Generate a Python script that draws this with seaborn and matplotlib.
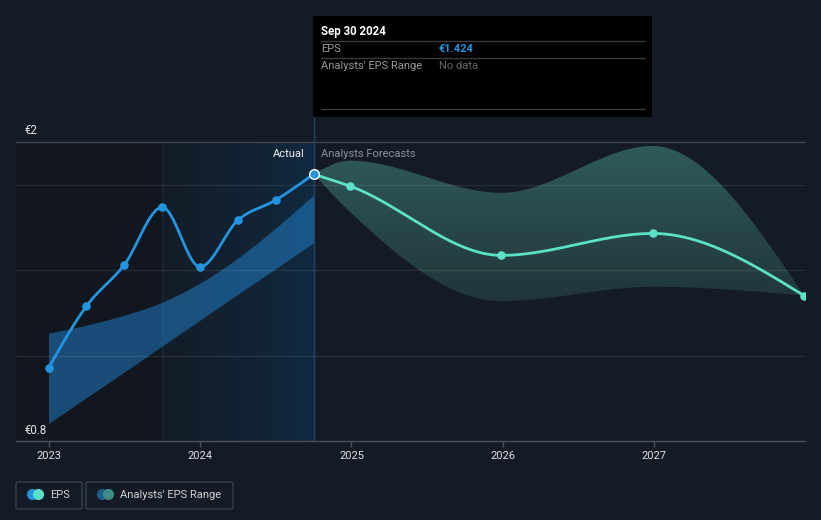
import numpy as np
import matplotlib
matplotlib.use("Agg")
import matplotlib.pyplot as plt
from matplotlib.colors import LinearSegmentedColormap
from matplotlib.patches import Rectangle, FancyBboxPatch
from matplotlib.lines import Line2D
import seaborn as sns

# EPS history, quarterly (decimal years)
actual_x = [2023.0, 2023.25, 2023.5, 2023.75, 2024.0, 2024.25, 2024.5, 2024.75]
actual_eps = [1.093, 1.341, 1.507, 1.738, 1.499, 1.686, 1.767, 1.871]
past_range_low = [0.870, 0.974, 1.077, 1.181, 1.285, 1.389, 1.492, 1.596]
past_range_high = [1.233, 1.265, 1.305, 1.357, 1.434, 1.534, 1.655, 1.787]

# Analyst forecasts
forecast_x = [2024.75, 2024.99, 2025.99, 2026.99, 2027.99]
forecast_eps = [1.871, 1.823, 1.545, 1.633, 1.383]
forecast_low = [1.871, 1.72, 1.361, 1.419, 1.383]
forecast_high = [1.871, 1.925, 1.796, 1.984, 1.383]

year_ticks = [2023, 2024, 2025, 2026, 2027]
year_labels = ["2023", "2024", "2025", "2026", "2027"]
grid_levels = [1.141, 1.486, 1.827]
y_min, y_max = 0.8, 2.0
past_year_start = 2023.75
today = 2024.75

BG = "#151b26"
BLUE = "#2394df"
TEAL = "#5ce1c9"
W, H = 821, 520


def monotone(x, y, n=400):
    # monotone cubic curve (like d3.curveMonotoneX) for drawing
    x = np.asarray(x, float)
    y = np.asarray(y, float)
    h = np.diff(x)
    d = np.diff(y) / h
    m = np.zeros_like(y)
    for i in range(1, len(y) - 1):
        s0, s1 = d[i - 1], d[i]
        p = (s0 * h[i] + s1 * h[i - 1]) / (h[i - 1] + h[i])
        m[i] = (np.sign(s0) + np.sign(s1)) * min(abs(s0), abs(s1), 0.5 * abs(p))
    m[0] = (3 * d[0] - m[1]) / 2
    m[-1] = (3 * d[-1] - m[-2]) / 2
    xs = np.linspace(x[0], x[-1], n)
    idx = np.clip(np.searchsorted(x, xs) - 1, 0, len(h) - 1)
    t = (xs - x[idx]) / h[idx]
    h00 = 2 * t**3 - 3 * t**2 + 1
    h10 = t**3 - 2 * t**2 + t
    h01 = -2 * t**3 + 3 * t**2
    h11 = t**3 - t**2
    ys = h00 * y[idx] + h10 * h[idx] * m[idx] + h01 * y[idx + 1] + h11 * h[idx] * m[idx + 1]
    return xs, ys


def fx(px):
    return px / W


def fy(py):
    return 1 - py / H


sns.set_theme(style="dark", rc={"axes.facecolor": BG, "figure.facecolor": BG})
plt.rcParams["font.family"] = ["Roboto", "DejaVu Sans"]

fig = plt.figure(figsize=(8.21, 5.2), dpi=100)
ax = fig.add_axes([fx(16), fy(441), fx(805) - fx(16), fy(142) - fy(441)])
ax.set_facecolor(BG)

x_lo, x_hi = 2022.785, 2027.995

# background zones
ax.axvspan(x_lo, past_year_start, color="#12171f", zorder=0, lw=0)
grad = np.linspace(0, 1, 512) ** 1.4
grad = grad.reshape(1, -1)
hl_cmap = LinearSegmentedColormap.from_list("hl", ["#141d29", "#102a41"])
ax.imshow(grad, extent=[past_year_start, today, y_min, y_max], aspect="auto",
          cmap=hl_cmap, zorder=0.5, interpolation="nearest")
ax.axvline(past_year_start, color="#1c2736", lw=1, zorder=0.6)

# grid (translucent so it shows through the bands)
for g in grid_levels:
    ax.axhline(g, color="white", alpha=0.08, lw=1, zorder=3)
ax.axhline(y_max, color="#3e434d", lw=1, zorder=1, clip_on=False)

# past range band
bx, bhi = monotone(actual_x, past_range_high)
_, blo = monotone(actual_x, past_range_low)
ax.fill_between(bx, blo, bhi, color="#2184d0", alpha=0.5, lw=0, zorder=2)

# forecast range band with vertical gradient
fxs, fhi = monotone(forecast_x, forecast_high)
_, flo = monotone(forecast_x, forecast_low)
poly = ax.fill_between(fxs, flo, fhi, facecolor="none", edgecolor="none", zorder=2)
teal_cmap = LinearSegmentedColormap.from_list("tl", ["#20353a", "#305b5b"])
vgrad = np.linspace(0, 1, 256).reshape(-1, 1)
img = ax.imshow(vgrad, extent=[today, forecast_x[-1], 1.35, y_max], aspect="auto",
                origin="lower", cmap=teal_cmap, zorder=2, interpolation="bilinear")
img.set_clip_path(poly.get_paths()[0], transform=ax.transData)

# today line
ax.axvline(today, ymin=0, ymax=1 + 25 / 299, color="#24435f", lw=1, zorder=1.5, clip_on=False)

# lines
sx, sy = monotone(forecast_x, forecast_eps)
sns.lineplot(x=sx, y=sy, ax=ax, color=TEAL, lw=2.0, sort=False, estimator=None, zorder=4)
ax_x, ax_y = monotone(actual_x, actual_eps)
sns.lineplot(x=ax_x, y=ax_y, ax=ax, color=BLUE, lw=2.0, sort=False, estimator=None, zorder=5)

sns.scatterplot(x=forecast_x[1:], y=forecast_eps[1:], ax=ax, color=TEAL, s=38,
                edgecolor=TEAL, linewidth=0, zorder=6, clip_on=True)
sns.scatterplot(x=actual_x[:-1], y=actual_eps[:-1], ax=ax, color=BLUE, s=38,
                edgecolor=BLUE, linewidth=0, zorder=6)
sns.scatterplot(x=[actual_x[-1]], y=[actual_eps[-1]], ax=ax, color=BLUE, s=48,
                edgecolor="white", linewidth=1.0, zorder=7)

ax.set_xlim(x_lo, x_hi)
ax.set_ylim(y_min, y_max)
ax.set_xticks(year_ticks)
ax.set_xticklabels(year_labels)
ax.set_yticks([])
ax.set_xlabel("")
ax.set_ylabel("")
ax.grid(False)
for s in ["top", "left", "right"]:
    ax.spines[s].set_visible(False)
ax.spines["bottom"].set_color("#4b505a")
ax.spines["bottom"].set_linewidth(1)
ax.tick_params(axis="x", colors="#4b505a", length=4, width=1, pad=3,
               labelcolor="#e0e0e0", labelsize=8, bottom=True)

# axis value labels
fig.text(fx(24), fy(130), "€2", color="#e6e6e6", fontsize=8.3, va="center", ha="left")
fig.text(fx(24), fy(430), "€0.8", color="#e6e6e6", fontsize=8.3, va="center", ha="left")

# section labels
fig.text(fx(305), fy(154), "Actual", color="#f0f0f0", fontsize=8, va="center", ha="right")
fig.text(fx(321), fy(154), "Analysts Forecasts", color="#8c9099", fontsize=8, va="center", ha="left")

# tooltip
fig.add_artist(Rectangle((fx(313), fy(117)), fx(652) - fx(313), fy(16) - fy(117),
                         transform=fig.transFigure, facecolor="black", edgecolor="none", zorder=10))
for ly in [41, 58, 109]:
    fig.add_artist(Line2D([fx(321), fx(645)], [fy(ly), fy(ly)], transform=fig.transFigure,
                          color="#3a3a3a", lw=1, zorder=11))
fig.text(fx(321), fy(31), "Sep 30 2024", color="white", fontsize=8.3, fontweight="bold",
         va="center", ha="left", zorder=12)
fig.text(fx(321), fy(49), "EPS", color="#9a9a9a", fontsize=8, va="center", ha="left", zorder=12)
fig.text(fx(439), fy(49), "€1.424", color=BLUE, fontsize=8, fontweight="bold",
         va="center", ha="left", zorder=12)
fig.text(fx(321), fy(66), "Analysts' EPS Range", color="#9a9a9a", fontsize=8,
         va="center", ha="left", zorder=12)
fig.text(fx(439), fy(66), "No data", color="#666666", fontsize=8, va="center", ha="left", zorder=12)

# legend boxes
legend_items = [
    (16, 82, [BLUE, TEAL], "EPS", 50),
    (86, 233, ["#1d5e8e", "#3f8c82"], "Analysts' EPS Range", 120),
]
for x0, x1, cols, label, tx in legend_items:
    fig.add_artist(FancyBboxPatch((fx(x0), fy(509)), fx(x1) - fx(x0), fy(482) - fy(509),
                                  boxstyle="round,pad=0,rounding_size=0.003",
                                  transform=fig.transFigure, facecolor="none",
                                  edgecolor="#3a3f48", lw=1))
    fig.add_artist(Line2D([fx(x0 + 16)], [fy(494)], transform=fig.transFigure, marker="o",
                          ms=7, color=cols[0], mec=cols[0], lw=0))
    fig.add_artist(Line2D([fx(x0 + 22)], [fy(494)], transform=fig.transFigure, marker="o",
                          ms=7, color=cols[1], mec=cols[1], lw=0))
    fig.text(fx(tx), fy(495), label, color="#d0d0d0", fontsize=8, va="center", ha="left")

fig.savefig("out.png", dpi=100, facecolor=BG)
